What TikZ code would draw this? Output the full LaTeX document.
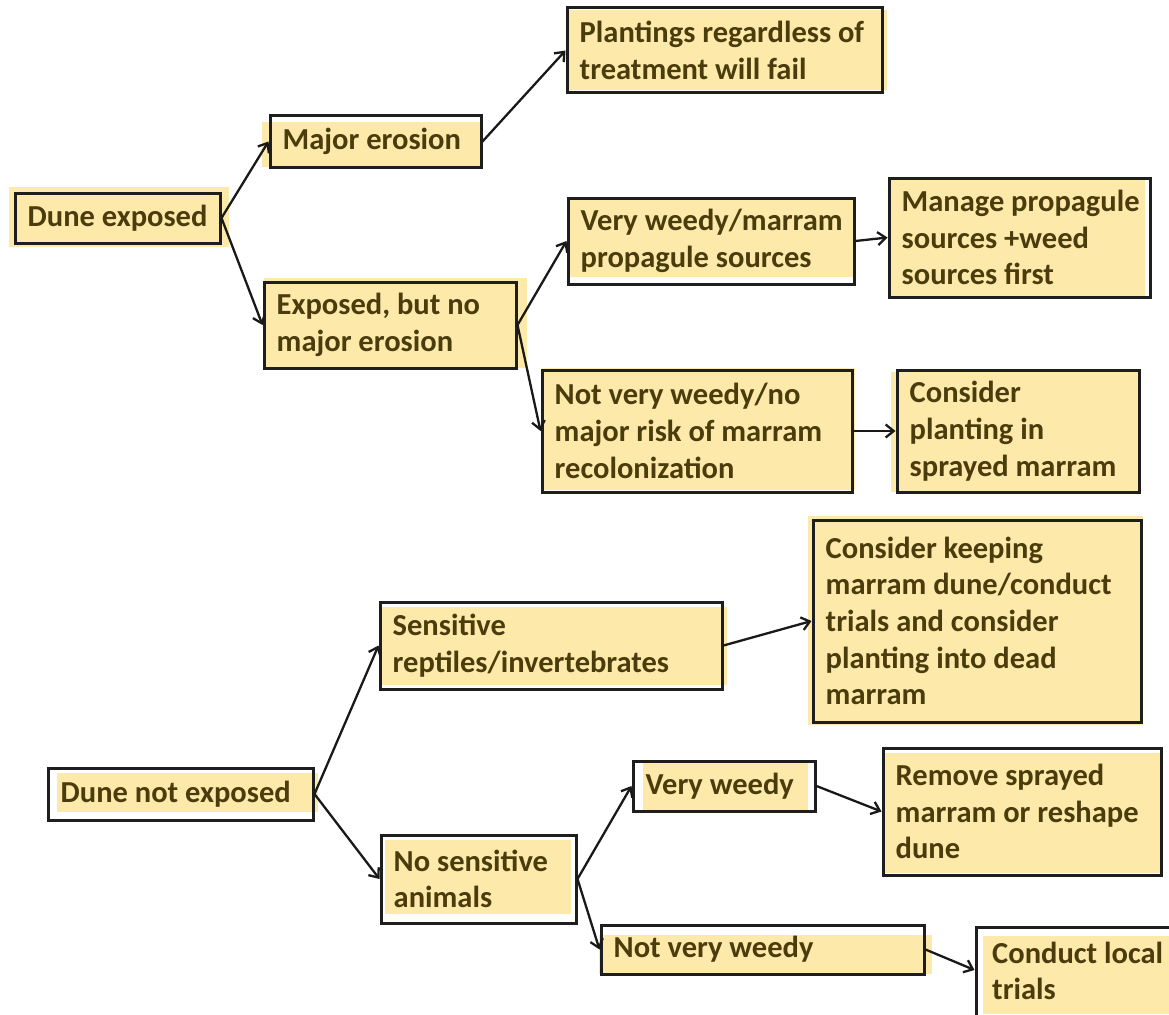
\documentclass[tikz,border=0pt]{standalone}
\usepackage{fontspec}
\setmainfont{Carlito}
\usetikzlibrary{arrows.meta}

\definecolor{boxfill}{RGB}{253,234,170}
\definecolor{boxline}{RGB}{30,30,30}
\definecolor{boxtext}{RGB}{74,60,12}

\tikzset{
  bx/.style={draw=boxline, line width=3pt, rectangle, inner sep=0pt},
  lbl/.style={text=boxtext, align=left, inner sep=0pt, anchor=west,
    font=\fontsize{30.5}{36.7}\selectfont\bfseries},
  arr/.style={draw=black!90, line width=2.3pt,
    -{Straight Barb[length=8pt,width=13pt,line width=2.3pt]}},
  tint/.style={fill=boxfill}
}

% box: name, x1, y1, x2, y2, text  (pixel-style coordinates, y downwards)
\newcommand\dunebox[6]{%
  \node[bx, minimum width={(#4-#2)*1pt}, minimum height={(#5-#3)*1pt}]
    (#1) at ({(#2+#4)/2},{(#3+#5)/2}) {};
  \node[lbl] (#1-t) at ([xshift=14pt]#1.west) {#6};
}
\newcommand\tintrect[4]{\fill[tint] (#1,#2) rectangle (#3,#4);}

\begin{document}
\begin{tikzpicture}[x=1pt,y=-1pt]
\useasboundingbox (0,0) rectangle (1169,1014);
\begin{scope}
\clip (0,0) rectangle (1169,1014);

% background tints of the boxes
\tintrect{9}{187}{229}{247}
\tintrect{262}{122}{481}{167}
\tintrect{567}{10}{887}{90}
\tintrect{264}{278}{527}{368}
\tintrect{568}{198}{854}{277}
\tintrect{889}{180}{1145}{297}
\tintrect{542}{368}{855}{490}
\tintrect{891}{372}{1139}{492}
\tintrect{380}{607}{727}{685}
\tintrect{808}{516}{1143}{725}
\tintrect{57}{773}{318}{812}
\tintrect{385}{840}{571}{914}
\tintrect{643}{763}{808}{810}
\tintrect{885}{753}{1161}{873}
\tintrect{599}{935}{932}{974}
\tintrect{983}{936}{1169}{1014}

% exposed dune branch
\dunebox{DE}{15}{193}{220}{243}{Dune exposed}
\dunebox{ME}{270}{116}{481}{167}{Major erosion}
\dunebox{PL}{567}{8}{882}{93}{Plantings regardless of\\treatment will fail}
\dunebox{EX}{264}{282}{516}{368}{Exposed, but no\\major erosion}
\dunebox{VWM}{568}{198}{854}{284}{Very weedy/marram\\propagule sources}
\dunebox{MPS}{889}{178}{1150}{297}{Manage propagule\\sources +weed\\sources first}
\dunebox{NVWN}{542}{370}{852}{492}{Not very weedy/no\\major risk of marram\\recolonization}
\dunebox{CP}{897}{370}{1139}{492}{Consider\\planting in\\sprayed marram}

% sheltered dune branch
\dunebox{DN}{48}{768}{313}{820}{Dune not exposed}
\dunebox{SR}{380}{602}{722}{689}{Sensitive\\reptiles/invertebrates}
\dunebox{CK}{813}{520}{1141}{722}{Consider keeping\\marram dune/conduct\\trials and consider\\planting into dead\\marram}
\dunebox{NS}{381}{835}{576}{923}{No sensitive\\animals}
\dunebox{VW}{633}{761}{815}{811}{Very weedy}
\dunebox{RS}{883}{748}{1161}{875}{Remove sprayed\\marram or reshape\\dune}
\dunebox{NVW}{601}{925}{924}{974}{Not very weedy}
\node[bx, minimum width=230pt, minimum height=110pt] (CL) at (1091,982) {};
\node[lbl] (CL-t) at (992,971) {Conduct local\\trials};

% connectors
\draw[arr] (DE.east) -- (ME.west);
\draw[arr] (DE.east) -- (EX.west);
\draw[arr] (ME.east) -- (PL.west);
\draw[arr] (EX.east) -- (VWM.west);
\draw[arr] (EX.east) -- (NVWN.west);
\draw[arr] (VWM.east) -- (MPS.west);
\draw[arr] (NVWN.east) -- (CP.west);
\draw[arr] (DN.east) -- (SR.west);
\draw[arr] (DN.east) -- (NS.west);
\draw[arr] (SR.east) -- (CK.west);
\draw[arr] (NS.east) -- (VW.west);
\draw[arr] (NS.east) -- (NVW.west);
\draw[arr] (VW.east) -- (RS.west);
\draw[arr] (NVW.east) -- ([yshift=12pt]CL.west);
\end{scope}
\end{tikzpicture}
\end{document}
